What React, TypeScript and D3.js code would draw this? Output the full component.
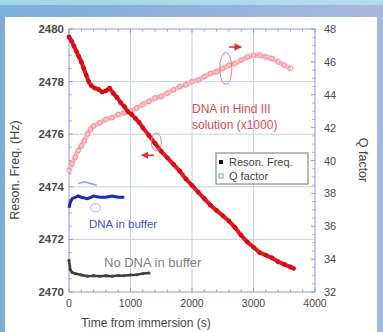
import { useEffect, useRef } from 'react'
import * as d3 from 'd3'

// resonance frequency, DNA in HindIII solution
const redT = [0, 40, 80, 120, 160, 200, 240, 280, 320, 360, 420, 480, 540, 600, 660, 720, 780, 840, 900, 960, 1020, 1080, 1140, 1200, 1300, 1400, 1500, 1600, 1700, 1800, 1900, 2000, 2100, 2200, 2300, 2400, 2500, 2600, 2700, 2800, 2900, 3000, 3100, 3200, 3300, 3400, 3500, 3600, 3650]
const redF = [2479.7, 2479.55, 2479.35, 2479.15, 2478.95, 2478.75, 2478.5, 2478.25, 2478.0, 2477.85, 2477.75, 2477.7, 2477.6, 2477.65, 2477.75, 2477.55, 2477.4, 2477.2, 2477.05, 2476.85, 2476.75, 2476.6, 2476.45, 2476.25, 2475.95, 2475.65, 2475.35, 2475.1, 2474.85, 2474.6, 2474.3, 2474.05, 2473.8, 2473.55, 2473.3, 2473.1, 2472.9, 2472.7, 2472.45, 2472.15, 2471.9, 2471.7, 2471.5, 2471.4, 2471.3, 2471.15, 2471.05, 2470.95, 2470.9]

// Q factor, DNA in HindIII solution
const pinkT = [0, 50, 100, 150, 200, 250, 300, 350, 400, 500, 600, 700, 800, 900, 1000, 1100, 1200, 1300, 1400, 1500, 1600, 1700, 1800, 1900, 2000, 2100, 2200, 2300, 2400, 2500, 2600, 2700, 2800, 2900, 3000, 3100, 3200, 3300, 3400, 3500, 3600]
const pinkQ = [39.4, 39.8, 40.2, 40.6, 40.9, 41.2, 41.6, 41.9, 42.1, 42.3, 42.5, 42.6, 42.8, 42.9, 43.0, 43.2, 43.4, 43.6, 43.8, 43.9, 44.1, 44.3, 44.5, 44.6, 44.8, 44.9, 45.1, 45.3, 45.4, 45.6, 45.8, 45.9, 46.1, 46.3, 46.4, 46.4, 46.3, 46.2, 46.0, 45.8, 45.6]

// DNA in buffer
const blueT = [0, 20, 50, 100, 150, 200, 300, 400, 500, 600, 700, 800, 900]
const blueF = [2473.2, 2473.4, 2473.55, 2473.6, 2473.65, 2473.6, 2473.55, 2473.65, 2473.6, 2473.6, 2473.65, 2473.6, 2473.6]
const blueQT = [150, 250, 350, 450]
const blueQ = [38.6, 38.7, 38.6, 38.5]

// No DNA in buffer
const grayT = [0, 20, 50, 100, 200, 300, 400, 500, 600, 700, 800, 900, 1000, 1100, 1200, 1300]
const grayF = [2471.2, 2470.85, 2470.75, 2470.7, 2470.65, 2470.6, 2470.62, 2470.6, 2470.62, 2470.6, 2470.63, 2470.62, 2470.65, 2470.66, 2470.7, 2470.72]

const xTicks = [0, 1000, 2000, 3000, 4000]
const yTicks = [2470, 2472, 2474, 2476, 2478, 2480]
const qTicks = [32, 34, 36, 38, 40, 42, 44, 46, 48]

export default function App() {
  const ref = useRef<SVGSVGElement>(null)

  useEffect(() => {
    const svg = d3.select(ref.current)
    svg.selectAll('*').remove()
    const W = 383, H = 332
    const font = 'Liberation Sans, Arial, sans-serif'

    const defs = svg.append('defs')
    const grad = defs.append('linearGradient').attr('id', 'bg').attr('x1', 0).attr('x2', 1)
    grad.append('stop').attr('offset', 0).attr('stop-color', '#7aaed8')
    grad.append('stop').attr('offset', 1).attr('stop-color', '#a6b8dc')
    const topGrad = defs.append('linearGradient').attr('id', 'top').attr('x1', 0).attr('x2', 1)
    topGrad.append('stop').attr('offset', 0).attr('stop-color', '#9fd6ec')
    topGrad.append('stop').attr('offset', 1).attr('stop-color', '#b6dcee')
    const mk = defs.append('marker').attr('id', 'arr').attr('viewBox', '0 0 10 10')
      .attr('refX', 9).attr('refY', 5).attr('markerWidth', 5).attr('markerHeight', 5).attr('orient', 'auto')
    mk.append('path').attr('d', 'M0,0L10,5L0,10z').attr('fill', '#e0303a')

    svg.append('rect').attr('width', W).attr('height', H).attr('fill', 'url(#bg)')
    svg.append('rect').attr('width', W).attr('height', 5).attr('fill', 'url(#top)')
    svg.append('rect').attr('x', 5).attr('y', 17).attr('width', 372).attr('height', H - 17).attr('fill', '#fff')

    const L = 69, R = 315, T = 29, B = 292
    const x = d3.scaleLinear().domain([0, 4000]).range([L, R])
    const y = d3.scaleLinear().domain([2470, 2480]).range([B, T])
    const yq = d3.scaleLinear().domain([32, 48]).range([B, T])

    // grid
    const grid = svg.append('g').attr('stroke', '#c4cef4').attr('stroke-width', 1)
    xTicks.slice(1, -1).forEach(t => grid.append('line').attr('x1', x(t)).attr('x2', x(t)).attr('y1', T).attr('y2', B))
    yTicks.slice(1, -1).forEach(t => grid.append('line').attr('x1', L).attr('x2', R).attr('y1', y(t)).attr('y2', y(t)))

    // frame + minor ticks
    const ax = svg.append('g').attr('stroke', '#9098e0').attr('stroke-width', 1)
    ax.append('rect').attr('x', L).attr('y', T).attr('width', R - L).attr('height', B - T).attr('fill', 'none')
    d3.range(0, 4001, 200).forEach(t => {
      const len = t % 1000 === 0 ? 4 : 2.5
      ax.append('line').attr('x1', x(t)).attr('x2', x(t)).attr('y1', T).attr('y2', T + len)
      ax.append('line').attr('x1', x(t)).attr('x2', x(t)).attr('y1', B).attr('y2', B - len)
    })
    d3.range(2470, 2480.01, 0.5).forEach(v => {
      const len = v % 2 === 0 ? 4 : 2.5
      ax.append('line').attr('x1', L).attr('x2', L + len).attr('y1', y(v)).attr('y2', y(v))
    })
    d3.range(32, 48.01, 0.5).forEach(v => {
      const len = v % 2 === 0 ? 4 : 2.5
      ax.append('line').attr('x1', R).attr('x2', R - len).attr('y1', yq(v)).attr('y2', yq(v))
    })

    // tick labels
    const tl = svg.append('g').attr('font-family', font).attr('font-size', 10.5).attr('fill', '#4a4a4a')
    xTicks.forEach(t => tl.append('text').attr('x', x(t)).attr('y', B + 15).attr('text-anchor', 'middle').text(t))
    yTicks.forEach(t => tl.append('text').attr('x', L - 5).attr('y', y(t) + 4).attr('text-anchor', 'end')
      .attr('font-size', 11.5).attr('font-weight', 'bold').text(t))
    qTicks.forEach(t => tl.append('text').attr('x', R + 9).attr('y', yq(t) + 4).attr('text-anchor', 'start')
      .attr('font-size', 11).text(t))

    svg.append('text').attr('x', 146).attr('y', 327).attr('text-anchor', 'middle')
      .attr('font-family', font).attr('font-size', 12).attr('fill', '#444').text('Time from immersion (s)')
    svg.append('text').attr('transform', `translate(19,170) rotate(-90)`).attr('text-anchor', 'middle')
      .attr('font-family', font).attr('font-size', 12.5).attr('fill', '#444').text('Reson. Freq. (Hz)')
    svg.append('text').attr('transform', `translate(359,160) rotate(90)`).attr('text-anchor', 'middle')
      .attr('font-family', font).attr('font-size', 12.5).attr('fill', '#444').text('Q factor')

    const line = d3.line<[number, number]>().curve(d3.curveLinear)

    // Q factor, pink open circles
    const pq = pinkT.map((t, i) => [x(t), yq(pinkQ[i])] as [number, number])
    svg.append('path').attr('d', line(pq)).attr('fill', 'none').attr('stroke', '#f9c2c5').attr('stroke-width', 5)
    svg.append('g').selectAll('circle').data(pq).enter().append('circle')
      .attr('cx', d => d[0]).attr('cy', d => d[1]).attr('r', 2.4).attr('fill', 'none').attr('stroke', '#f08890').attr('stroke-width', 0.9)

    // blue Q
    const bq = blueQT.map((t, i) => [x(t), yq(blueQ[i])] as [number, number])
    svg.append('path').attr('d', line(bq)).attr('fill', 'none').attr('stroke', '#8c9ae8').attr('stroke-width', 1.5)

    // gray
    const gp = grayT.map((t, i) => [x(t), y(grayF[i])] as [number, number])
    svg.append('path').attr('d', line(gp)).attr('fill', 'none').attr('stroke', '#3a3a3a').attr('stroke-width', 2.5)
    svg.append('g').selectAll('circle').data(gp).enter().append('circle')
      .attr('cx', d => d[0]).attr('cy', d => d[1]).attr('r', 1.6).attr('fill', '#444')

    // blue
    const bp = blueT.map((t, i) => [x(t), y(blueF[i])] as [number, number])
    svg.append('path').attr('d', line(bp)).attr('fill', 'none').attr('stroke', '#1c2ab8').attr('stroke-width', 3)

    // red
    const rp = redT.map((t, i) => [x(t), y(redF[i])] as [number, number])
    svg.append('path').attr('d', line(rp)).attr('fill', 'none').attr('stroke', '#e8141e').attr('stroke-width', 4)
      .attr('stroke-linejoin', 'round').attr('stroke-linecap', 'round')
    svg.append('g').selectAll('circle').data(rp).enter().append('circle')
      .attr('cx', d => d[0]).attr('cy', d => d[1]).attr('r', 2.4).attr('fill', '#d80a14')

    // annotations
    svg.append('ellipse').attr('cx', x(2550)).attr('cy', yq(45.6)).attr('rx', 6).attr('ry', 16)
      .attr('fill', 'none').attr('stroke', '#f07a80').attr('stroke-width', 1)
    svg.append('line').attr('x1', x(2600)).attr('x2', x(2800)).attr('y1', yq(46.9)).attr('y2', yq(46.9))
      .attr('stroke', '#e0303a').attr('stroke-width', 1.5).attr('marker-end', 'url(#arr)')
    svg.append('ellipse').attr('cx', x(1420)).attr('cy', y(2475.7)).attr('rx', 5).attr('ry', 9)
      .attr('fill', 'none').attr('stroke', '#f07a80').attr('stroke-width', 1)
    svg.append('line').attr('x1', x(1380)).attr('x2', x(1180)).attr('y1', y(2475.2)).attr('y2', y(2475.2))
      .attr('stroke', '#e0303a').attr('stroke-width', 1.5).attr('marker-end', 'url(#arr)')
    svg.append('ellipse').attr('cx', x(430)).attr('cy', y(2473.2)).attr('rx', 5).attr('ry', 4)
      .attr('fill', 'none').attr('stroke', '#a8b0e0').attr('stroke-width', 1)

    const ann = svg.append('g').attr('font-family', font)
    ann.append('text').attr('x', 192).attr('y', 113).attr('font-size', 12).attr('fill', '#e04850').text('DNA in Hind III')
    ann.append('text').attr('x', 192).attr('y', 129).attr('font-size', 12).attr('fill', '#e04850').text('solution (x1000)')
    ann.append('text').attr('x', 89).attr('y', 228).attr('font-size', 11.5).attr('fill', '#4352c8').text('DNA in buffer')
    ann.append('text').attr('x', 104).attr('y', 267).attr('font-size', 13).attr('fill', '#808080').text('No DNA in buffer')

    // legend
    const lg = svg.append('g').attr('font-family', font).attr('font-size', 11)
    lg.append('rect').attr('x', 216).attr('y', 153).attr('width', 92).attr('height', 31)
      .attr('fill', '#fff').attr('stroke', '#777').attr('stroke-width', 1)
    lg.append('rect').attr('x', 219).attr('y', 160).attr('width', 4).attr('height', 4).attr('fill', '#111')
    lg.append('text').attr('x', 229).attr('y', 166).attr('fill', '#444').text('Reson. Freq.')
    lg.append('rect').attr('x', 219).attr('y', 174).attr('width', 4).attr('height', 4).attr('fill', 'none').attr('stroke', '#6a8')
    lg.append('text').attr('x', 229).attr('y', 180).attr('fill', '#444').text('Q factor')
  }, [])

  return <svg ref={ref} width={383} height={332} style={{ position: 'absolute', left: 0, top: 0 }} />
}
